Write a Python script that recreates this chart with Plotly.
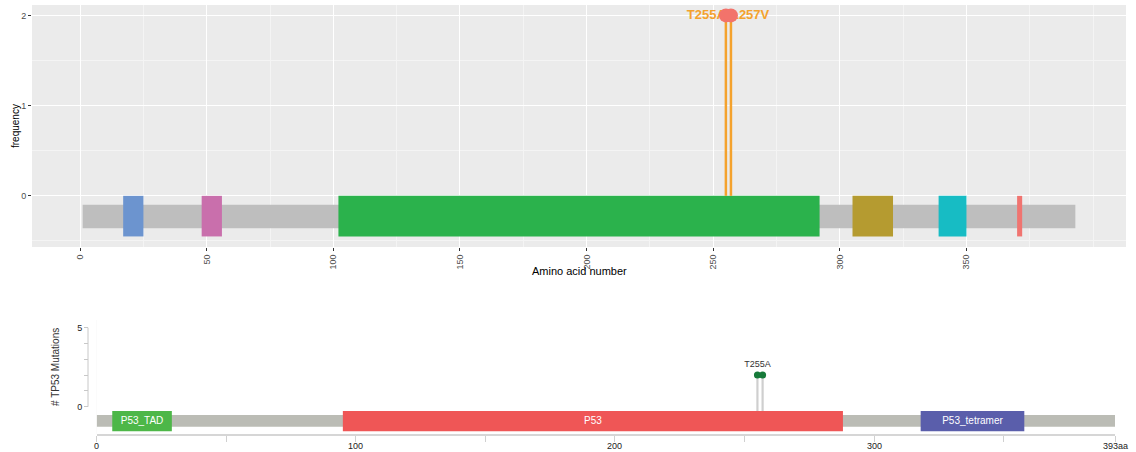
import plotly.graph_objects as go

# ---- data -------------------------------------------------------------
protein_length = 393

# upper panel: protein domains along the amino-acid axis
top_domain_start = [17, 48, 102, 305, 339, 370]
top_domain_end = [25, 56, 292, 321, 350, 372]

# upper panel: mutations and their frequency
mutation_labels = ["T255A", "L257V"]
mutation_pos = [255, 257]
mutation_freq = [2, 2]

# lower panel: Pfam domains of TP53
lower_domain_names = ["P53_TAD", "P53", "P53_tetramer"]
lower_domain_start = [6, 95, 318]
lower_domain_end = [29, 288, 358]

# lower panel: mutation counts (only the first one is labelled)
lower_mut_pos = [255, 257]
lower_mut_count = [2, 2]
lower_mut_label = ["T255A", ""]

top_x_ticks = [0, 50, 100, 150, 200, 250, 300, 350]
top_y_ticks = [0, 1, 2]
lower_x_ticks = [0, 50, 100, 150, 200, 250, 300, 350, 393]
lower_x_ticktext = ["0", "", "100", "", "200", "", "300", "", "393aa"]
lower_y_ticks = [0, 1, 2, 3, 4, 5]
lower_y_ticktext = ["0", "", "", "", "", "5"]

# ---- styling ----------------------------------------------------------
W, H = 1136, 452
FONT = "Arial, Liberation Sans, sans-serif"
top_domain_colors = ["#6C94CF", "#C96FAC", "#2BB24C", "#B59B30", "#17BCC4", "#F07470"]
lower_domain_colors = ["#4DB748", "#EF5656", "#5A5EAB"]
ORANGE = "#F4A22D"
SALMON = "#F2736B"


def px_x(p):
    return p / W


def px_y(p):
    return 1 - p / H


def rect(x0, x1, y0, y1):
    return [x0, x1, x1, x0, x0], [y0, y0, y1, y1, y0]


fig = go.Figure()

# ---- upper panel ------------------------------------------------------
bx, by = rect(1, protein_length, -0.1, -0.36)
fig.add_trace(go.Scatter(x=bx, y=by, fill="toself", fillcolor="#BEBEBE",
                         line=dict(width=0), mode="lines", hoverinfo="skip",
                         xaxis="x", yaxis="y"))
for s, e, c in zip(top_domain_start, top_domain_end, top_domain_colors):
    rx, ry = rect(s, e, 0, -0.45)
    fig.add_trace(go.Scatter(x=rx, y=ry, fill="toself", fillcolor=c,
                             line=dict(width=0), mode="lines", hoverinfo="skip",
                             xaxis="x", yaxis="y"))

for p, f in zip(mutation_pos, mutation_freq):
    fig.add_trace(go.Scatter(x=[p, p], y=[0, f], mode="lines",
                             line=dict(color=ORANGE, width=2.5),
                             hoverinfo="skip", xaxis="x", yaxis="y"))

for lab, p, f, side in zip(mutation_labels, mutation_pos, mutation_freq,
                           ["middle left", "middle right"]):
    fig.add_trace(go.Scatter(x=[p], y=[f], mode="text", text=[f"<b>{lab}</b>"],
                             textposition=side,
                             textfont=dict(color=ORANGE, size=13, family=FONT),
                             hoverinfo="skip", xaxis="x", yaxis="y"))

fig.add_trace(go.Scatter(x=mutation_pos, y=mutation_freq, mode="markers",
                         marker=dict(color=SALMON, size=14, line=dict(width=0)),
                         hoverinfo="skip", xaxis="x", yaxis="y"))

# ---- lower panel ------------------------------------------------------
lbx, lby = rect(0, protein_length, -0.53, -1.27)
fig.add_trace(go.Scatter(x=lbx, y=lby, fill="toself", fillcolor="#BBBCB5",
                         line=dict(width=0), mode="lines", hoverinfo="skip",
                         xaxis="x2", yaxis="y2"))

for p, n in zip(lower_mut_pos, lower_mut_count):
    fig.add_trace(go.Scatter(x=[p, p], y=[-0.28, n], mode="lines",
                             line=dict(color="#CFCFCF", width=2.2),
                             hoverinfo="skip", xaxis="x2", yaxis="y2"))

for name, s, e, c in zip(lower_domain_names, lower_domain_start,
                         lower_domain_end, lower_domain_colors):
    rx, ry = rect(s, e, -0.28, -1.55)
    fig.add_trace(go.Scatter(x=rx, y=ry, fill="toself", fillcolor=c,
                             line=dict(width=0), mode="lines", hoverinfo="skip",
                             xaxis="x2", yaxis="y2"))
    fig.add_trace(go.Scatter(x=[(s + e) / 2], y=[-0.915], mode="text", text=[name],
                             textposition="middle center",
                             textfont=dict(color="white", size=10, family=FONT),
                             hoverinfo="skip", xaxis="x2", yaxis="y2"))

fig.add_trace(go.Scatter(x=lower_mut_pos, y=lower_mut_count, mode="markers+text",
                         text=lower_mut_label, textposition="top center",
                         textfont=dict(color="#333333", size=9, family=FONT),
                         marker=dict(color="#177A3A", size=7, line=dict(width=0)),
                         hoverinfo="skip", xaxis="x2", yaxis="y2"))

# ---- axes -------------------------------------------------------------
fig.update_layout(
    width=W, height=H, autosize=False,
    margin=dict(l=0, r=0, t=0, b=0, pad=0),
    paper_bgcolor="white",
    showlegend=False,
    font=dict(family=FONT, color="#4D4D4D"),
    xaxis=dict(
        domain=[px_x(32), px_x(1126)], range=[-19, 413], anchor="y",
        automargin=False,
        tickvals=top_x_ticks, ticktext=[str(t) for t in top_x_ticks],
        tickangle=-90, tickfont=dict(size=9, color="#4D4D4D"),
        ticks="outside", ticklen=3, tickcolor="#333333", tickwidth=1,
        showgrid=True, gridcolor="white", gridwidth=1.1,
        minor=dict(tickvals=[25, 75, 125, 175, 225, 275, 325, 375, 400],
                   showgrid=True, gridcolor="#F4F4F4", gridwidth=0.7, ticks=""),
        zeroline=False, showline=False,
    ),
    yaxis=dict(
        domain=[px_y(247), px_y(5)], range=[-0.567, 2.115], anchor="x",
        automargin=False,
        tickvals=top_y_ticks, ticktext=[str(t) for t in top_y_ticks],
        tickfont=dict(size=9, color="#4D4D4D"),
        ticks="outside", ticklen=3, tickcolor="#333333", tickwidth=1,
        showgrid=True, gridcolor="white", gridwidth=1.1,
        minor=dict(tickvals=[-0.5, 0.5, 1.5], showgrid=True,
                   gridcolor="#F4F4F4", gridwidth=0.7, ticks=""),
        zeroline=False, showline=False,
    ),
    plot_bgcolor="#EBEBEB",
    xaxis2=dict(
        domain=[px_x(96.7), px_x(1115)], range=[0, protein_length], anchor="y2",
        automargin=False,
        tickvals=lower_x_ticks, showticklabels=False,
        ticks="outside", ticklen=6, tickcolor="#D0D0D0", tickwidth=1.2,
        showline=True, linecolor="#D6D6D6", linewidth=2,
        showgrid=False, zeroline=False,
    ),
    yaxis2=dict(
        domain=[px_y(434), px_y(320)], range=[-1.728, 5.487],
        anchor="free", position=px_x(88), automargin=False,
        tickvals=lower_y_ticks, ticktext=lower_y_ticktext,
        tickfont=dict(size=9, color="#222222"),
        ticks="outside", ticklen=4, tickcolor="#C8C8C8", tickwidth=1,
        showline=False, showgrid=False, zeroline=False,
    ),
)

# lower panel x tick labels, placed tight under the ticks
for v, t in zip(lower_x_ticks, lower_x_ticktext):
    if t:
        fig.add_annotation(text=t, xref="x2", yref="paper", x=v, y=px_y(446),
                           xanchor="center", yanchor="middle", showarrow=False,
                           font=dict(size=9, color="#222222", family=FONT))

# lower panel background must stay white
fig.add_shape(type="rect", xref="paper", yref="paper",
              x0=px_x(96.7), x1=px_x(1115), y0=px_y(434), y1=px_y(320),
              fillcolor="white", line=dict(width=0), layer="below")

# vertical axis line of the lower panel, spanning 0..5 only
fig.add_shape(type="line", xref="paper", yref="y2",
              x0=px_x(88), x1=px_x(88), y0=0, y1=5,
              line=dict(color="#C8C8C8", width=1))

# axis titles
fig.add_annotation(text="frequency", xref="paper", yref="paper",
                   x=px_x(15), y=px_y(126), textangle=-90, showarrow=False,
                   xanchor="center", yanchor="middle",
                   font=dict(size=10, color="black", family=FONT))
fig.add_annotation(text="Amino acid number", xref="paper", yref="paper",
                   x=px_x(579), y=px_y(271), showarrow=False,
                   xanchor="center", yanchor="middle",
                   font=dict(size=11, color="black", family=FONT))
fig.add_annotation(text="# TP53 Mutations", xref="paper", yref="paper",
                   x=px_x(55), y=px_y(367), textangle=-90, showarrow=False,
                   xanchor="center", yanchor="middle",
                   font=dict(size=10, color="#333333", family=FONT))

fig.write_html("out.html")
